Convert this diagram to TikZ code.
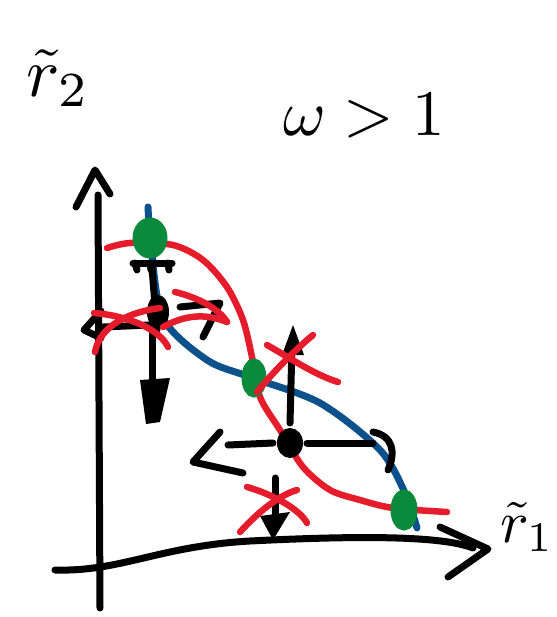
\documentclass[tikz,border=0pt]{standalone}
\usetikzlibrary{arrows.meta}
\definecolor{myred}{RGB}{228,28,44}
\definecolor{myblue}{RGB}{12,80,140}
\definecolor{mygreen}{RGB}{10,138,58}
\begin{document}
\begin{tikzpicture}[x=1pt,y=-1pt,
  pen/.style={line width=7pt,line cap=round,line join=round},
  ink/.style={pen,draw=black},
  redink/.style={pen,line width=6.5pt,draw=myred},
  blueink/.style={pen,line width=7pt,draw=myblue},
  greenring/.style={line width=7pt,draw=mygreen,fill=mygreen},
  blob/.style={fill=black},
  lab/.style={inner sep=0pt,scale=7}]
\useasboundingbox (0,0) rectangle (556,617);

% labels
\node[lab] (r2) at (58,78) {$\tilde r_2$};
\node[lab,scale=6.5/7] (w) at (364,116) {$\omega>1$};
\node[lab,scale=6/7] (r1) at (527,527) {$\tilde r_1$};

% points
\coordinate (P1) at (158,312);
\coordinate (G1) at (150,238);
\coordinate (G2) at (254,378);
\coordinate (G3) at (404,510);
\coordinate (P3) at (290,443);

% axes
\draw[ink] (100,608) -- (98,195);
\draw[ink] (76,207) -- (95,170) -- (110,194);
\draw[ink] (55,570) .. controls (120,572) and (160,546) .. (250,541)
  .. controls (350,536) and (440,535) .. (473,548);
\draw[ink] (440,527) -- (488,549) -- (448,577);

% curves
\draw[blueink] plot[smooth] coordinates {(148,207) (151,245) (163,318) (207,360) (250,377) (320,403) (380,450) (405,493) (417,528)};
\draw[redink] plot[smooth] coordinates {(107,248) (130,243) (173,245) (203,260) (227,287) (243,320) (252,357) (260,397) (280,430) (303,467) (330,490) (360,500) (393,508) (447,512)};

% green equilibria
\draw[greenring] (G1) ellipse [x radius=14, y radius=17];
\draw[greenring] (G2) ellipse [x radius=9, y radius=16];
\draw[greenring] (G3) ellipse [x radius=10, y radius=17];

% point 1 with arrows
\draw[ink] (133,263) -- (172,263);
\draw[ink] (135,263) -- (137,270);
\draw[ink] (150,263) -- (151,270);
\draw[ink] (168,263) -- (169,270);
\draw[ink] (152,268) -- (157,330);
\fill[blob] (P1) ellipse [x radius=11, y radius=17];
\draw[ink] (152,330) -- (152,382);
\fill[blob] (140,380) -- (170,378) -- (160,422) -- (146,424) -- cycle;
\draw[ink] (150,325) -- (103,327);
\draw[ink] (101,311) -- (84,330) -- (101,338);
\draw[ink] (180,307) -- (220,303) -- (203,337);

% point 3 with arrows
\fill[blob] (P3) ellipse [x radius=13, y radius=15];
\draw[ink] (290,423) -- (292,345);
\fill[blob] (282,355) -- (293,325) -- (304,355) -- cycle;
\draw[ink] (273,443) -- (228,445);
\draw[ink] (220,432) -- (193,462) -- (243,473);
\draw[ink] (307,443) -- (373,443);
\draw[ink] (373,432) .. controls (393,436) and (396,452) .. (388,470);
\draw[ink] (275,478) -- (275,523);
\fill[blob] (260,516) -- (290,512) -- (273,540) -- cycle;

% red crosses
\draw[redink] (94,313) .. controls (130,316) and (160,330) .. (168,347);
\draw[redink] (95,352) .. controls (100,325) and (130,312) .. (160,308);
\draw[redink] (175,292) .. controls (200,298) and (220,310) .. (227,322);
\draw[redink] (163,327) .. controls (185,315) and (205,313) .. (227,322);
\draw[redink] (267,345) .. controls (290,358) and (315,375) .. (338,382);
\draw[redink] (257,392) .. controls (275,370) and (295,350) .. (313,335);
\draw[redink] (247,487) .. controls (275,495) and (300,510) .. (307,523);
\draw[redink] (240,532) .. controls (260,510) and (280,495) .. (297,490);
\end{tikzpicture}
\end{document}
